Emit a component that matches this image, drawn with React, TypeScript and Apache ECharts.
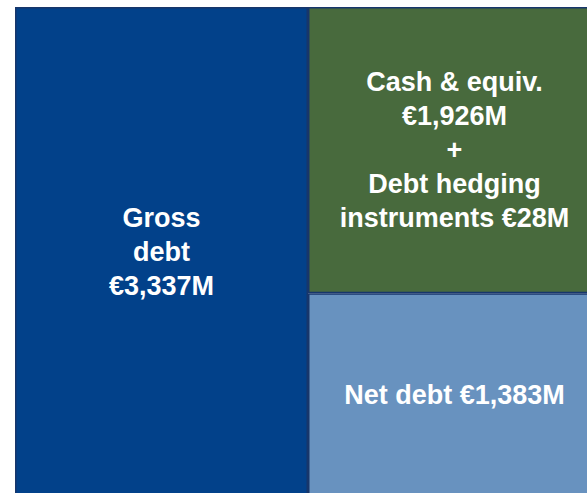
import React, { useEffect, useRef } from "react";
import * as echarts from "echarts";

// Data (EUR millions)
const categories = ["Gross debt", "Cash & net debt"];
const grossDebtValues = [3337, null];
const cashEquivalents = 1926;
const debtHedging = 28;
const cashAndHedgingValues = [null, cashEquivalents + debtHedging];
const netDebtValues = [null, 1383];

const fmt = (v: number) => "€" + v.toLocaleString("en-US") + "M";

export default function App() {
  const ref = useRef<HTMLDivElement>(null);

  useEffect(() => {
    document.body.style.margin = "0";
    if (!ref.current) return;
    const chart = echarts.init(ref.current, undefined, { renderer: "svg" });
    const labelBase = {
      show: true,
      position: "inside" as const,
      color: "#ffffff",
      fontFamily: "Arial, 'Liberation Sans', sans-serif",
      fontWeight: "bold" as const,
      fontSize: 27,
      lineHeight: 34,
      align: "center" as const,
    };
    const border = { borderColor: "#17366b", borderWidth: 1.5 };
    chart.setOption({
      animation: false,
      grid: { left: 15, right: 0, top: 7, bottom: 0 },
      xAxis: {
        type: "category",
        data: categories,
        show: false,
      },
      yAxis: {
        type: "value",
        min: 0,
        max: grossDebtValues[0] as number,
        show: false,
      },
      series: [
        {
          name: "Gross debt",
          type: "bar",
          stack: "total",
          barCategoryGap: 0,
          barGap: 0,
          data: grossDebtValues.map((v) => (v == null ? "-" : v)),
          itemStyle: { color: "#02418a", ...border },
          label: {
            ...labelBase,
            formatter: (p: any) => `Gross\ndebt\n${fmt(p.value)}`,
          },
        },
        {
          name: "Net debt",
          type: "bar",
          stack: "total",
          barCategoryGap: 0,
          barGap: 0,
          data: netDebtValues.map((v) => (v == null ? "-" : v)),
          itemStyle: { color: "#6892bf", ...border },
          label: {
            ...labelBase,
            formatter: (p: any) => `Net debt ${fmt(p.value)}`,
          },
        },
        {
          name: "Cash & equiv. + Debt hedging instruments",
          type: "bar",
          stack: "total",
          barCategoryGap: 0,
          barGap: 0,
          data: cashAndHedgingValues.map((v) => (v == null ? "-" : v)),
          itemStyle: { color: "#486a3d", ...border },
          label: {
            ...labelBase,
            formatter: () =>
              `Cash & equiv.\n${fmt(cashEquivalents)}\n+\nDebt hedging\ninstruments ${fmt(debtHedging)}`,
          },
        },
      ],
    });
    return () => chart.dispose();
  }, []);

  return (
    <div style={{ width: 587, height: 493, overflow: "hidden", position: "relative", background: "#fff" }}>
      <div ref={ref} style={{ width: 601, height: 496, position: "absolute", left: 0, top: 0 }} />
    </div>
  );
}
